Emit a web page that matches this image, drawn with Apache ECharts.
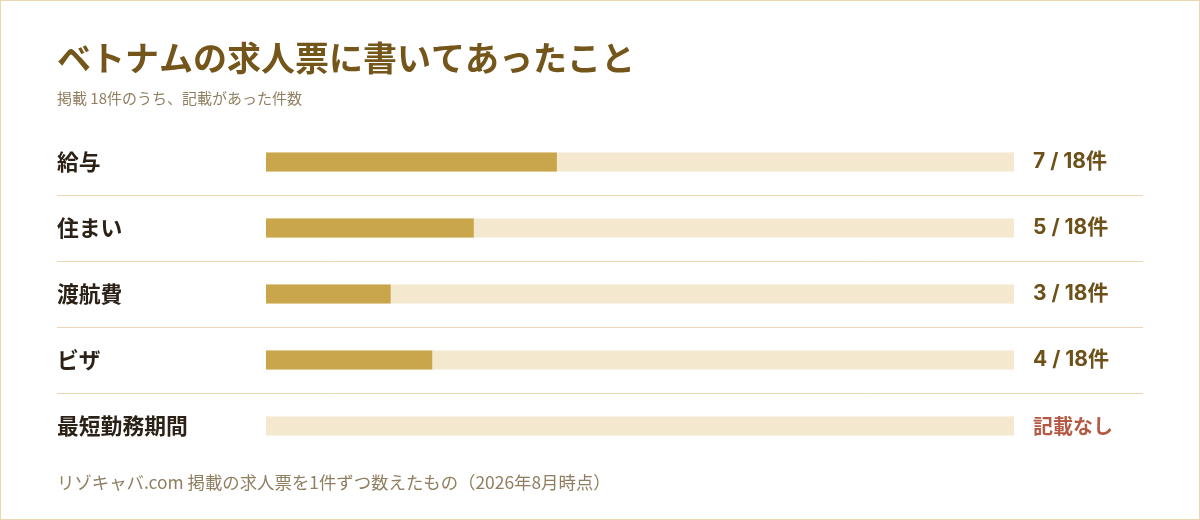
<!doctype html>
<html lang="ja">
<head>
<meta charset="UTF-8">
<title>ベトナムの求人票に書いてあったこと</title>
<style>
  html, body { margin: 0; padding: 0; background: #fff; }
  #chart { width: 1200px; height: 520px; box-sizing: border-box; border: 1px solid #e6d7ae; }
</style>
</head>
<body>
<div id="chart"></div>
<script src="https://cdn.jsdelivr.net/npm/echarts@6/dist/echarts.min.js"></script>
<script>
// 項目と件数
var categories = ['給与', '住まい', '渡航費', 'ビザ', '最短勤務期間'];
var counts = [7, 5, 3, 4, 0];
var total = 18;
var valueLabels = ['7 / 18件', '5 / 18件', '3 / 18件', '4 / 18件', '記載なし'];

var FONT = '"Noto Sans CJK JP", "Noto Sans", sans-serif';
var NUMFONT = '"Inter", "Noto Sans CJK JP", sans-serif';

var chart = echarts.init(document.getElementById('chart'));
var option = {
    animation: false,
    title: [{
        text: 'ベトナムの求人票に書いてあったこと',
        subtext: '掲載 18件のうち、記載があった件数',
        left: 51,
        top: 35,
        itemGap: 16,
        textStyle: { fontFamily: FONT, fontSize: 34, fontWeight: 'bold', color: '#74561b' },
        subtextStyle: { fontFamily: FONT, fontSize: 15, color: '#8f7f60' }
    }, {
        text: 'リゾキャバ.com 掲載の求人票を1件ずつ数えたもの（2026年8月時点）',
        left: 51,
        top: 468,
        textStyle: { fontFamily: FONT, fontSize: 17.4, fontWeight: 'normal', color: '#8f7f60' }
    }],
    grid: [
        { left: 265, right: 185, top: 128, height: 330 },
        // 区切り線用（行の境目 4 本）
        { left: 56, right: 56, top: 194, height: 198 }
    ],
    xAxis: [
        { gridIndex: 0, type: 'value', min: 0, max: total, show: false },
        { gridIndex: 1, type: 'value', min: 0, max: 1, show: false }
    ],
    yAxis: [{
        gridIndex: 0,
        type: 'category',
        inverse: true,
        data: categories,
        axisLine: { show: false },
        axisTick: { show: false },
        splitLine: { show: false },
        axisLabel: {
            align: 'left',
            margin: 209,
            fontFamily: FONT,
            fontSize: 21.8,
            fontWeight: 'bold',
            color: '#2b2116'
        }
    }, {
        gridIndex: 0,
        type: 'category',
        inverse: true,
        position: 'right',
        data: valueLabels,
        axisLine: { show: false },
        axisTick: { show: false },
        splitLine: { show: false },
        axisLabel: {
            align: 'left',
            margin: 19,
            formatter: function (v) {
                return v === '記載なし' ? '{none|' + v + '}' : '{num|' + v + '}';
            },
            rich: {
                num: { fontFamily: NUMFONT, fontSize: 21, fontWeight: 'bold', color: '#6e5119' },
                none: { fontFamily: FONT, fontSize: 20, fontWeight: 'bold', color: '#b45a44' }
            }
        }
    }, {
        gridIndex: 1,
        type: 'value',
        inverse: true,
        min: 0,
        max: 3,
        interval: 1,
        axisLine: { show: false },
        axisTick: { show: false },
        axisLabel: { show: false },
        splitLine: { show: true, lineStyle: { color: '#e8d9b2', width: 1 } }
    }],
    series: [{
        type: 'bar',
        xAxisIndex: 0,
        yAxisIndex: 0,
        data: counts,
        barWidth: 19,
        itemStyle: { color: '#c9a64b' },
        showBackground: true,
        backgroundStyle: { color: '#f4e8cf' },
        silent: true
    }]
};
chart.setOption(option);
</script>
</body>
</html>
